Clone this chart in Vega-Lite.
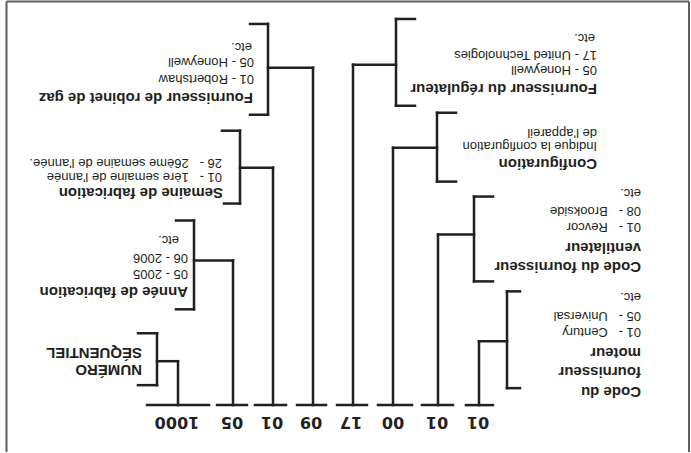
{
  "$schema": "https://vega.github.io/schema/vega-lite/v6.json",
  "width": 691,
  "height": 453,
  "padding": 0,
  "autosize": {"type": "fit", "contains": "padding"},
  "background": "white",
  "config": {"view": {"stroke": null}},
  "datasets": {
    "frame": [
      {"x": 6.5, "y": 1.5, "x2": 689, "y2": 1.5},
      {"x": 6.5, "y": 1.5, "x2": 6.5, "y2": 453},
      {"x": 689, "y": 1.5, "x2": 689, "y2": 453}
    ],
    "segments": [
      {"x": 147, "y": 406, "x2": 209, "y2": 406},
      {"x": 217, "y": 406, "x2": 247, "y2": 406},
      {"x": 255, "y": 406, "x2": 286, "y2": 406},
      {"x": 297, "y": 406, "x2": 326, "y2": 406},
      {"x": 337, "y": 406, "x2": 367, "y2": 406},
      {"x": 378, "y": 406, "x2": 412, "y2": 406},
      {"x": 422, "y": 406, "x2": 453, "y2": 406},
      {"x": 466, "y": 406, "x2": 493, "y2": 406},

      {"x": 178, "y": 362, "x2": 178, "y2": 406},
      {"x": 157, "y": 362, "x2": 178, "y2": 362},
      {"x": 157, "y": 334, "x2": 157, "y2": 386},
      {"x": 138, "y": 334, "x2": 157, "y2": 334},
      {"x": 138, "y": 386, "x2": 157, "y2": 386},

      {"x": 233, "y": 261, "x2": 233, "y2": 406},
      {"x": 194, "y": 261, "x2": 233, "y2": 261},
      {"x": 194, "y": 221, "x2": 194, "y2": 310},
      {"x": 176, "y": 221, "x2": 194, "y2": 221},
      {"x": 176, "y": 310, "x2": 194, "y2": 310},

      {"x": 273, "y": 168, "x2": 273, "y2": 406},
      {"x": 240, "y": 168, "x2": 273, "y2": 168},
      {"x": 240, "y": 131, "x2": 240, "y2": 204},
      {"x": 222, "y": 131, "x2": 240, "y2": 131},
      {"x": 224, "y": 204, "x2": 240, "y2": 204},

      {"x": 313, "y": 68, "x2": 313, "y2": 406},
      {"x": 268, "y": 68, "x2": 313, "y2": 68},
      {"x": 268, "y": 24, "x2": 268, "y2": 115},
      {"x": 250, "y": 24, "x2": 268, "y2": 24},
      {"x": 250, "y": 115, "x2": 268, "y2": 115},

      {"x": 353, "y": 65, "x2": 353, "y2": 406},
      {"x": 353, "y": 65, "x2": 396, "y2": 65},
      {"x": 396, "y": 19, "x2": 396, "y2": 106},
      {"x": 396, "y": 19, "x2": 415, "y2": 19},
      {"x": 396, "y": 106, "x2": 415, "y2": 106},

      {"x": 393, "y": 148, "x2": 393, "y2": 406},
      {"x": 393, "y": 148, "x2": 437, "y2": 148},
      {"x": 437, "y": 113, "x2": 437, "y2": 182},
      {"x": 437, "y": 113, "x2": 456, "y2": 113},
      {"x": 437, "y": 182, "x2": 456, "y2": 182},

      {"x": 438, "y": 235, "x2": 438, "y2": 406},
      {"x": 438, "y": 235, "x2": 474, "y2": 235},
      {"x": 474, "y": 197, "x2": 474, "y2": 282},
      {"x": 474, "y": 197, "x2": 493, "y2": 197},
      {"x": 474, "y": 282, "x2": 493, "y2": 282},

      {"x": 479, "y": 342, "x2": 479, "y2": 406},
      {"x": 479, "y": 342, "x2": 507, "y2": 342},
      {"x": 507, "y": 292, "x2": 507, "y2": 389},
      {"x": 507, "y": 292, "x2": 520, "y2": 292},
      {"x": 507, "y": 389, "x2": 520, "y2": 389}
    ],
    "titles": [
      {"x": 142, "y": 371, "text": "NUMÉRO"},
      {"x": 142, "y": 354, "text": "SÉQUENTIEL"},
      {"x": 188, "y": 293, "text": "Année de fabrication"},
      {"x": 223, "y": 193, "text": "Semaine de fabrication"},
      {"x": 253, "y": 98, "text": "Fournisseur de robinet de gaz"},
      {"x": 597, "y": 89, "text": "Fournisseur du régulateur"},
      {"x": 597, "y": 164, "text": "Configuration"},
      {"x": 641, "y": 268, "text": "Code du fournisseur"},
      {"x": 641, "y": 249, "text": "ventilateur"},
      {"x": 641, "y": 393, "text": "Code du"},
      {"x": 641, "y": 373, "text": "fournisseur"},
      {"x": 641, "y": 354, "text": "moteur"}
    ],
    "notes": [
      {"x": 188, "y": 275, "text": "05 - 2005"},
      {"x": 188, "y": 259, "text": "06 - 2006"},
      {"x": 179, "y": 241, "text": "etc."},
      {"x": 222, "y": 177, "text": "01 -\u00a0\u00a0\u00a01ère semaine de l'année"},
      {"x": 222, "y": 163, "text": "26 -\u00a0\u00a0\u00a026ème semaine de l'année."},
      {"x": 254, "y": 79, "text": "01 - Robertshaw"},
      {"x": 254, "y": 62, "text": "05 - Honeywell"},
      {"x": 252, "y": 47, "text": "etc."},
      {"x": 597, "y": 70, "text": "05 - Honeywell"},
      {"x": 597, "y": 55, "text": "17 - United Technologies"},
      {"x": 595, "y": 38, "text": "etc."},
      {"x": 597, "y": 146, "text": "Indique la configuration"},
      {"x": 597, "y": 133, "text": "de l'appareil"},
      {"x": 641, "y": 228, "text": "01 -\u00a0\u00a0\u00a0Revcor"},
      {"x": 641, "y": 211, "text": "08 -\u00a0\u00a0\u00a0Brookside"},
      {"x": 641, "y": 193, "text": "etc."},
      {"x": 641, "y": 333, "text": "01 -\u00a0\u00a0\u00a0Century"},
      {"x": 641, "y": 317, "text": "05 -\u00a0\u00a0\u00a0Universal"},
      {"x": 641, "y": 298, "text": "etc."}
    ],
    "codes": [
      {"x": 177, "y": 423, "text": "1000"},
      {"x": 232, "y": 423, "text": "05"},
      {"x": 272, "y": 423, "text": "01"},
      {"x": 311, "y": 423, "text": "09"},
      {"x": 351, "y": 423, "text": "17"},
      {"x": 393, "y": 423, "text": "00"},
      {"x": 437, "y": 423, "text": "01"},
      {"x": 478, "y": 423, "text": "01"}
    ]
  },
  "resolve": {"scale": {"x": "shared", "y": "shared"}},
  "layer": [
    {
      "data": {"name": "frame"},
      "mark": {"type": "rule", "color": "#5f5f5f", "strokeWidth": 2},
      "encoding": {
        "x": {"field": "x", "type": "quantitative", "scale": {"domain": [0, 691], "nice": false, "zero": false}, "axis": null},
        "y": {"field": "y", "type": "quantitative", "scale": {"domain": [0, 453], "nice": false, "zero": false, "reverse": true}, "axis": null},
        "x2": {"field": "x2"},
        "y2": {"field": "y2"}
      }
    },
    {
      "data": {"name": "segments"},
      "mark": {"type": "rule", "color": "#231f20", "strokeWidth": 2.5, "strokeCap": "square"},
      "encoding": {
        "x": {"field": "x", "type": "quantitative", "axis": null},
        "y": {"field": "y", "type": "quantitative", "axis": null},
        "x2": {"field": "x2"},
        "y2": {"field": "y2"}
      }
    },
    {
      "data": {"name": "titles"},
      "mark": {"type": "text", "angle": 180, "align": "left", "baseline": "middle", "font": "Liberation Sans", "fontWeight": "bold", "fontSize": 15, "color": "#231f20"},
      "encoding": {
        "x": {"field": "x", "type": "quantitative", "axis": null},
        "y": {"field": "y", "type": "quantitative", "axis": null},
        "text": {"field": "text"}
      }
    },
    {
      "data": {"name": "notes"},
      "mark": {"type": "text", "angle": 180, "align": "left", "baseline": "middle", "font": "Liberation Sans", "fontSize": 13, "color": "#231f20"},
      "encoding": {
        "x": {"field": "x", "type": "quantitative", "axis": null},
        "y": {"field": "y", "type": "quantitative", "axis": null},
        "text": {"field": "text"}
      }
    },
    {
      "data": {"name": "codes"},
      "mark": {"type": "text", "angle": 180, "align": "center", "baseline": "middle", "font": "DejaVu Sans", "fontWeight": "bold", "fontSize": 16, "color": "#231f20"},
      "encoding": {
        "x": {"field": "x", "type": "quantitative", "axis": null},
        "y": {"field": "y", "type": "quantitative", "axis": null},
        "text": {"field": "text"}
      }
    }
  ]
}
